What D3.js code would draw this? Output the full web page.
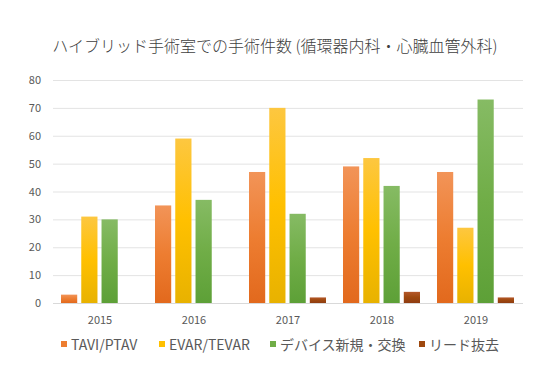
<!DOCTYPE html>
<html><head><meta charset="utf-8">
<script src="https://cdn.jsdelivr.net/npm/d3@7"></script>
<style>body{margin:0;background:#fff}svg{display:block}</style>
</head><body>
<svg id="c" width="553" height="373"></svg>
<script>
const categories = ["2015","2016","2017","2018","2019"];
const seriesNames = ["TAVI/PTAV","EVAR/TEVAR","デバイス新規・交換","リード抜去"];
const tavi = [3,35,47,49,47];
const evar = [31,59,70,52,27];
const device = [30,37,32,42,73];
const lead = [0,0,2,4,2];
const yTicks = [0,10,20,30,40,50,60,70,80];
const title = "ハイブリッド手術室での手術件数 (循環器内科・心臓血管外科)";

const series = [tavi, evar, device, lead];
const colors = [
  {top:"#f29458", bot:"#e2691d", solid:"#ed7d31"},
  {top:"#fdc740", bot:"#e8b200", solid:"#ffc000"},
  {top:"#86bb64", bot:"#5da037", solid:"#70ad47"},
  {top:"#b4582a", bot:"#8f3c12", solid:"#9e480e"}
];
const font = "'Noto Sans CJK JP','Noto Sans',sans-serif";
const svg = d3.select("#c");
const defs = svg.append("defs");
colors.forEach((c,i)=>{
  const g = defs.append("linearGradient").attr("id","g"+i).attr("x1",0).attr("y1",0).attr("x2",0).attr("y2",1);
  g.append("stop").attr("offset","0%").attr("stop-color",c.top);
  g.append("stop").attr("offset","50%").attr("stop-color",c.solid);
  g.append("stop").attr("offset","100%").attr("stop-color",c.bot);
});

const pLeft=53, pRight=523, pTop=80, pBottom=303;
const x = d3.scaleBand().domain(categories).range([pLeft,pRight]).paddingInner(0).paddingOuter(0);
const y = d3.scaleLinear().domain([0,80]).range([pBottom,pTop]);
const inner = d3.scaleBand().domain(d3.range(4)).range([8, x.bandwidth()-9]).paddingInner(0.2);

// gridlines
svg.append("g").selectAll("line").data(yTicks).join("line")
  .attr("x1",pLeft).attr("x2",pRight).attr("y1",d=>y(d)+0.5).attr("y2",d=>y(d)+0.5)
  .attr("stroke",d=>d===0?"#d9d9d9":"#e3e3e3").attr("stroke-width",1);

// y labels
svg.append("g").selectAll("text").data(yTicks).join("text")
  .attr("x",41).attr("y",d=>y(d)+4).attr("text-anchor","end")
  .attr("font-family",font).attr("font-size",11).attr("fill","#595959").text(d=>d);

// bars
series.forEach((s,si)=>{
  svg.append("g").selectAll("rect").data(s.map((v,i)=>({v,c:categories[i]})).filter(d=>d.v>0)).join("rect")
    .attr("x",d=>x(d.c)+inner(si)).attr("width",inner.bandwidth())
    .attr("y",d=>y(d.v)).attr("height",d=>y(0)-y(d.v))
    .attr("fill","url(#g"+si+")");
});

// x labels
svg.append("g").selectAll("text").data(categories).join("text")
  .attr("x",d=>x(d)+x.bandwidth()/2).attr("y",324).attr("text-anchor","middle")
  .attr("font-family",font).attr("font-size",11).attr("fill","#595959").text(d=>d);

// title
svg.append("text").attr("x",275).attr("y",52).attr("text-anchor","middle")
  .attr("font-family",font).attr("font-size",16).attr("font-weight",300).attr("fill","#404040").text(title);

// legend
const legX = [61,159,270,419];
seriesNames.forEach((n,i)=>{
  svg.append("rect").attr("x",legX[i]).attr("y",341).attr("width",6).attr("height",6).attr("fill",colors[i].solid);
  svg.append("text").attr("x",legX[i]+10).attr("y",350).attr("font-family",font).attr("font-size",14)
    .attr("fill","#595959").text(n);
});
</script>
</body></html>
